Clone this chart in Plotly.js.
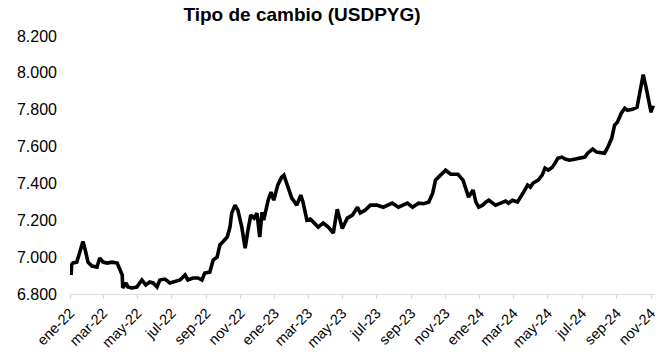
<!DOCTYPE html>
<html>
<head>
<meta charset="utf-8">
<script src="https://cdn.plot.ly/plotly-3.0.1.min.js"></script>
<style>html,body{margin:0;padding:0;background:#fff;}#chart{width:661px;height:352px;}</style>
</head>
<body>
<div id="chart"></div>
<script>
const dates = [
'2022-01-03','2022-01-04','2022-01-06','2022-01-13','2022-01-18','2022-01-24','2022-01-29','2022-02-02','2022-02-09','2022-02-18',
'2022-02-23','2022-03-01','2022-03-08','2022-03-17','2022-03-26','2022-03-29','2022-04-04','2022-04-05','2022-04-11','2022-04-14',
'2022-04-21','2022-04-30','2022-05-09','2022-05-16','2022-05-23','2022-05-29','2022-06-05','2022-06-10','2022-06-19','2022-06-28',
'2022-07-07','2022-07-16','2022-07-25','2022-07-30','2022-08-08','2022-08-17','2022-08-24','2022-08-29','2022-09-07','2022-09-13',
'2022-09-20','2022-09-25','2022-09-30','2022-10-08','2022-10-13','2022-10-16','2022-10-22','2022-10-27','2022-11-03','2022-11-09',
'2022-11-14','2022-11-19','2022-11-25','2022-11-30','2022-12-05','2022-12-09','2022-12-12','2022-12-20','2022-12-25','2022-12-30',
'2023-01-06','2023-01-13','2023-01-17','2023-01-24','2023-01-31','2023-02-09','2023-02-16','2023-02-20','2023-02-27','2023-03-05',
'2023-03-10','2023-03-19','2023-03-28','2023-04-06','2023-04-15','2023-04-22','2023-05-01','2023-05-10','2023-05-19','2023-05-28',
'2023-06-02','2023-06-11','2023-06-20','2023-07-02','2023-07-13','2023-07-29','2023-08-09','2023-08-25','2023-09-03','2023-09-14',
'2023-09-23','2023-10-02','2023-10-09','2023-10-14','2023-10-23','2023-11-01','2023-11-10','2023-11-23','2023-12-02','2023-12-07',
'2023-12-12','2023-12-20','2023-12-25','2023-12-30','2024-01-06','2024-01-12','2024-01-17','2024-01-24','2024-01-29','2024-02-07',
'2024-02-16','2024-02-21','2024-02-28','2024-03-08','2024-03-13','2024-03-19','2024-03-26','2024-03-31','2024-04-05','2024-04-14',
'2024-04-21','2024-04-26','2024-05-02','2024-05-09','2024-05-14','2024-05-19','2024-05-26','2024-06-01','2024-06-09','2024-06-18',
'2024-06-27','2024-07-06','2024-07-11','2024-07-20','2024-07-27','2024-08-05','2024-08-10','2024-08-16','2024-08-23','2024-08-28',
'2024-09-02','2024-09-09','2024-09-15','2024-09-20','2024-09-29','2024-10-07','2024-10-13','2024-10-18','2024-10-23','2024-10-27',
'2024-11-01','2024-11-03','2024-11-07'
];
const usdpyg = [
6903,6960,6968,6973,7022,7085,7028,6973,6952,6946,
6995,6973,6968,6973,6968,6946,6903,6833,6860,6838,
6833,6838,6876,6849,6865,6860,6838,6876,6881,6860,
6870,6876,6903,6876,6887,6887,6876,6914,6919,6984,
7000,7066,7082,7109,7163,7239,7282,7255,7163,7049,
7147,7228,7212,7239,7109,7244,7201,7309,7353,7309,
7391,7434,7445,7380,7320,7282,7337,7299,7201,7207,
7190,7163,7185,7163,7131,7260,7155,7212,7228,7271,
7240,7255,7282,7282,7271,7293,7271,7293,7271,7293,
7290,7299,7347,7418,7445,7472,7450,7450,7418,7364,
7326,7364,7299,7271,7282,7299,7309,7293,7282,7293,
7304,7293,7309,7299,7320,7353,7391,7380,7402,7418,
7445,7483,7472,7488,7510,7537,7543,7532,7526,7532,
7537,7543,7564,7586,7570,7564,7564,7597,7646,7716,
7732,7781,7808,7797,7802,7813,7922,7990,7922,7868,
7786,7813,7810
];
const tickVals = ['2022-01-01','2022-03-01','2022-05-01','2022-07-01','2022-09-01','2022-11-01',
'2023-01-01','2023-03-01','2023-05-01','2023-07-01','2023-09-01','2023-11-01',
'2024-01-01','2024-03-01','2024-05-01','2024-07-01','2024-09-01','2024-11-01'];
const tickText = ['ene-22','mar-22','may-22','jul-22','sep-22','nov-22',
'ene-23','mar-23','may-23','jul-23','sep-23','nov-23',
'ene-24','mar-24','may-24','jul-24','sep-24','nov-24'];
const yTicks = [6800,7000,7200,7400,7600,7800,8000,8200];
const yText = ['6.800','7.000','7.200','7.400','7.600','7.800','8.000','8.200'];

Plotly.newPlot('chart', [{
  x: dates, y: usdpyg, type: 'scatter', mode: 'lines',
  line: {color: '#000000', width: 3.6, shape: 'linear'},
  hoverinfo: 'skip'
}], {
  width: 661, height: 352,
  margin: {l: 70, r: 6, t: 36, b: 58},
  paper_bgcolor: '#ffffff', plot_bgcolor: '#ffffff',
  showlegend: false,
  font: {family: 'Liberation Sans, Arial, sans-serif', size: 16, color: '#000000'},
  title: {text: '<b>Tipo de cambio (USDPYG)</b>', x: 0.457, xanchor: 'center', y: 0.96, yanchor: 'middle',
          font: {family: 'Liberation Sans, Arial, sans-serif', size: 19, color: '#000000'}},
  xaxis: {
    type: 'date', range: ['2022-01-01', '2024-11-08'],
    tickmode: 'array', tickvals: tickVals, ticktext: tickText, tickangle: -45,
    showgrid: false, zeroline: false,
    showline: true, linecolor: '#d9d9d9', linewidth: 1,
    ticks: 'outside', ticklen: 4, tickcolor: '#d9d9d9',
    ticklabelstandoff: 0,
    tickfont: {size: 14.5, color: '#000000'}
  },
  yaxis: {
    range: [6800, 8200], tickmode: 'array', tickvals: yTicks, ticktext: yText,
    showgrid: false, zeroline: false, showline: false, ticks: '',
    ticklabelstandoff: 12,
    tickfont: {size: 16, color: '#000000'}
  }
}, {staticPlot: true, displayModeBar: false});
</script>
</body>
</html>
